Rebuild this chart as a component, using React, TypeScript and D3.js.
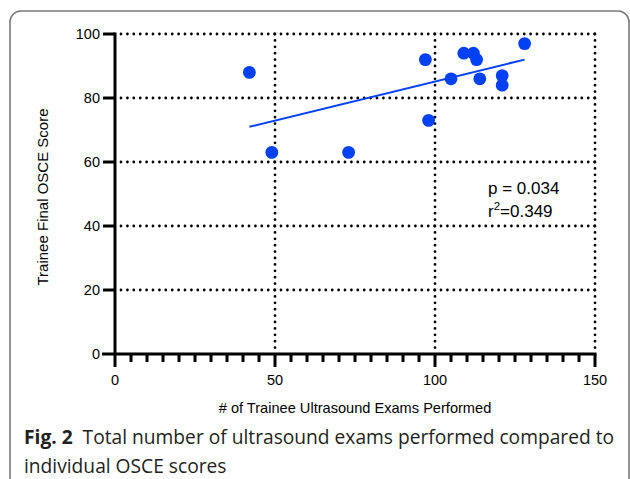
import { useEffect, useRef } from 'react';
import * as d3 from 'd3';

// exams performed vs final OSCE score, one point per trainee
const examsPerformed = [42, 49, 73, 97, 98, 105, 109, 112, 113, 114, 121, 121, 128];
const osceScores = [88, 63, 63, 92, 73, 86, 94, 94, 92, 86, 87, 84, 97];

// ends of the linear fit as drawn
const fitX = [42, 128];
const fitY = [71, 92];

const xTicks = [0, 50, 100, 150];
const yTicks = [0, 20, 40, 60, 80, 100];

const annotation = ['p = 0.034', '=0.349'];
const yTitle = 'Trainee Final OSCE Score';
const xTitle = '# of Trainee Ultrasound Exams Performed';
const captionBold = 'Fig. 2';
const captionLines = [
  'Total number of ultrasound exams performed compared to',
  'individual OSCE scores',
];

const width = 630;
const height = 479;
const blue = '#0041f5';

export default function App() {
  const svgRef = useRef<SVGSVGElement>(null);

  useEffect(() => {
    if (!svgRef.current) return;
    const svg = d3.select(svgRef.current);
    svg.selectAll('*').remove();

    const x = d3.scaleLinear().domain([0, 150]).range([115, 595]);
    const y = d3.scaleLinear().domain([0, 100]).range([354, 34]);
    const axisFont = '"Liberation Sans", Arial, sans-serif';

    // frame
    svg
      .append('rect')
      .attr('x', 10)
      .attr('y', 11)
      .attr('width', 619)
      .attr('height', 480)
      .attr('rx', 11)
      .attr('fill', 'white')
      .attr('stroke', '#7a7a7a')
      .attr('stroke-width', 1.6);

    // dotted grid
    const dotted = (sel: d3.Selection<SVGLineElement, number, SVGGElement, unknown>) =>
      sel
        .attr('stroke', 'black')
        .attr('stroke-width', 2.8)
        .attr('stroke-linecap', 'round')
        .attr('stroke-dasharray', '0 6.4');

    const grid = svg.append('g');
    grid
      .selectAll('line.h')
      .data(yTicks.filter((d) => d > 0))
      .enter()
      .append('line')
      .attr('x1', x(0) + 6)
      .attr('x2', x(150))
      .attr('y1', (d) => y(d))
      .attr('y2', (d) => y(d))
      .call(dotted);
    grid
      .selectAll('line.v')
      .data(xTicks.filter((d) => d > 0))
      .enter()
      .append('line')
      .attr('x1', (d) => x(d))
      .attr('x2', (d) => x(d))
      .attr('y1', y(100))
      .attr('y2', y(0) - 4)
      .call(dotted);

    // axes
    const axes = svg.append('g').attr('stroke', 'black').attr('stroke-width', 3);
    axes
      .append('line')
      .attr('x1', x(0))
      .attr('x2', x(0))
      .attr('y1', y(100) - 1.5)
      .attr('y2', y(0) + 13);
    axes
      .append('line')
      .attr('x1', x(0) - 13)
      .attr('x2', x(150) + 1.5)
      .attr('y1', y(0))
      .attr('y2', y(0));

    axes
      .selectAll('line.yt')
      .data(yTicks.filter((d) => d > 0))
      .enter()
      .append('line')
      .attr('x1', x(0) - 12)
      .attr('x2', x(0))
      .attr('y1', (d) => y(d))
      .attr('y2', (d) => y(d));

    const minor = d3.range(5, 150, 5).filter((d) => d % 50 !== 0);
    axes
      .selectAll('line.mx')
      .data(minor)
      .enter()
      .append('line')
      .attr('x1', (d) => x(d))
      .attr('x2', (d) => x(d))
      .attr('y1', y(0))
      .attr('y2', y(0) + 8);
    axes
      .selectAll('line.xt')
      .data(xTicks.filter((d) => d > 0))
      .enter()
      .append('line')
      .attr('x1', (d) => x(d))
      .attr('x2', (d) => x(d))
      .attr('y1', y(0))
      .attr('y2', y(0) + 13);

    // tick labels
    svg
      .append('g')
      .selectAll('text')
      .data(yTicks)
      .enter()
      .append('text')
      .attr('x', x(0) - 15)
      .attr('y', (d) => y(d) + 5)
      .attr('text-anchor', 'end')
      .attr('font-family', axisFont)
      .attr('font-size', 14.5)
      .text((d) => d);
    svg
      .append('g')
      .selectAll('text')
      .data(xTicks)
      .enter()
      .append('text')
      .attr('x', (d) => x(d))
      .attr('y', y(0) + 31)
      .attr('text-anchor', 'middle')
      .attr('font-family', axisFont)
      .attr('font-size', 14.5)
      .text((d) => d);

    // axis titles
    svg
      .append('text')
      .attr('transform', `translate(48, ${y(50) + 3}) rotate(-90)`)
      .attr('text-anchor', 'middle')
      .attr('font-family', axisFont)
      .attr('font-size', 15)
      .text(yTitle);
    svg
      .append('text')
      .attr('x', (x(0) + x(150)) / 2)
      .attr('y', 413)
      .attr('text-anchor', 'middle')
      .attr('font-family', axisFont)
      .attr('font-size', 14.6)
      .text(xTitle);

    // fit line
    const line = d3
      .line<number>()
      .x((d) => x(d))
      .y((_, i) => y(fitY[i]));
    svg
      .append('path')
      .attr('d', line(fitX))
      .attr('fill', 'none')
      .attr('stroke', blue)
      .attr('stroke-width', 2);

    // points
    svg
      .append('g')
      .selectAll('circle')
      .data(examsPerformed)
      .enter()
      .append('circle')
      .attr('cx', (d) => x(d))
      .attr('cy', (_, i) => y(osceScores[i]))
      .attr('r', 6.4)
      .attr('fill', blue);

    // stats annotation
    const note = svg
      .append('g')
      .attr('font-family', axisFont)
      .attr('font-size', 17);
    note.append('text').attr('x', 488).attr('y', 194).text(annotation[0]);
    const r2 = note.append('text').attr('x', 488).attr('y', 217);
    r2.append('tspan').text('r');
    r2.append('tspan').attr('font-size', 11.5).attr('dy', -7).text('2');
    r2.append('tspan').attr('dy', 7).text(annotation[1]);

    // caption
    const cap = svg
      .append('g')
      .attr('font-family', '"Open Sans", sans-serif')
      .attr('font-size', 19.2)
      .attr('fill', '#231f20');
    const l1 = cap.append('text').attr('x', 24).attr('y', 444);
    l1.append('tspan').attr('font-weight', 'bold').text(captionBold);
    l1.append('tspan').text('\u00a0 ' + captionLines[0]);
    cap.append('text').attr('x', 24).attr('y', 473).text(captionLines[1]);
  }, []);

  return (
    <div style={{ position: 'absolute', left: 0, top: 0 }}>
      <svg ref={svgRef} width={width} height={height} style={{ display: 'block' }} />
    </div>
  );
}
